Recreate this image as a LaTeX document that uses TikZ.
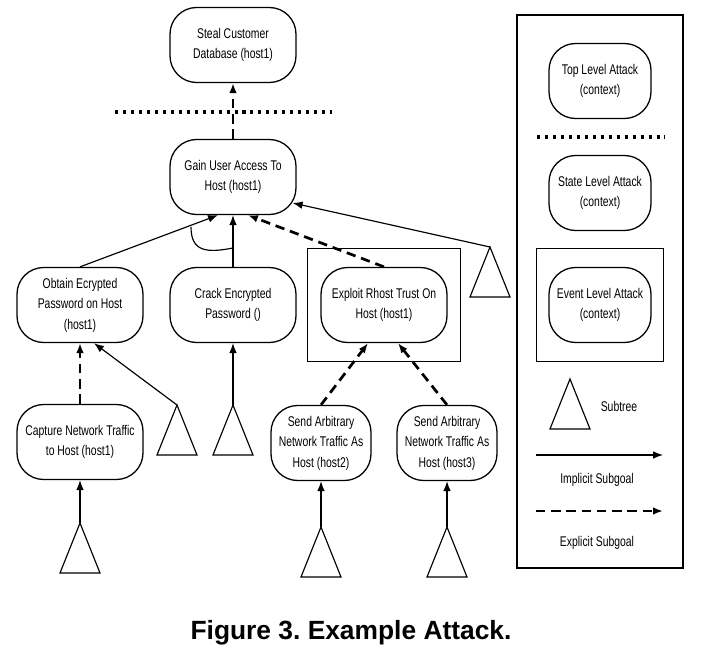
\documentclass[tikz,border=0pt]{standalone}
\usepackage{fontspec}
\setmainfont{Liberation Sans}[FakeStretch=0.74]
\newfontfamily\captionfont{Liberation Sans}
\usetikzlibrary{arrows.meta,calc,fit}

\newcommand{\subtree}[2]{%
  \coordinate (#1) at #2;
  \draw[line width=1pt] (#1) -- ++(-20,50) -- ++(40,0) -- cycle;}

\begin{document}
\begin{tikzpicture}[x=0.03cm, y=-0.03cm, font=\fontsize{12}{17.5}\selectfont,
  goal/.style={draw, line width=1.1pt, rounded corners=0.8cm, minimum width=3.78cm,
               minimum height=2.25cm, align=center, inner sep=1pt},
  sendgoal/.style={goal, minimum width=3cm},
  keygoal/.style={goal, minimum width=3.06cm},
  implicit/.style={-{Latex[length=8.5pt,width=6.5pt]}, line width=1pt},
  explicit/.style={-{Latex[length=8.5pt,width=6.5pt]}, line width=2.3pt, dash pattern=on 8pt off 5pt},
  level/.style={line width=2.6pt, dash pattern=on 2.6pt off 4.2pt},
  frame/.style={draw, line width=1.1pt}]
  \useasboundingbox (0,0) rectangle (711,651);

  \node[goal] (steal) at (233,45) {Steal Customer\\Database (host1)};
  \node[goal] (gain) at (233,177) {Gain User Access To\\Host (host1)};
  \node[goal] (obtain) at (80,305) {Obtain Ecrypted\\Password on Host\\(host1)};
  \node[goal] (crack) at (233,305) {Crack Encrypted\\Password ()};
  \node[goal] (exploit) at (384,305) {Exploit Rhost Trust On\\Host (host1)};
  \node[frame, fit=(exploit), inner xsep=0.38cm, inner ysep=0.54cm] (exploitframe) {};
  \node[goal] (capture) at (80,442) {Capture Network Traffic\\to Host (host1)};
  \node[sendgoal] (send2) at (321,443) {Send Arbitrary\\Network Traffic As\\Host (host2)};
  \node[sendgoal] (send3) at (447,443) {Send Arbitrary\\Network Traffic As\\Host (host3)};

  \subtree{gaintree}{(490,247)}
  \subtree{obtaintree}{(177,405)}
  \subtree{cracktree}{(233,405)}
  \subtree{capturetree}{(80,523)}
  \subtree{sendtree2}{(321,527)}
  \subtree{sendtree3}{(447,527)}

  \draw[level] (115,112) -- (332,112);
  \draw[explicit] (gain) -- (steal);
  \draw[implicit] (obtain.north) -- ($(gain.south)+(-15,0)$);
  \draw[implicit] (crack) -- (gain);
  \draw[line width=1pt] (191,227) .. controls (191,252) and (207,253) .. (233,248);
  \draw[explicit] (exploit.north) -- ($(gain.south)+(15,0)$);
  \draw[implicit] (gaintree) -- ($(gain.east)+(-4,26)$);
  \draw[explicit] (capture) -- (obtain);
  \draw[implicit] (obtaintree) -- ($(obtain.south)+(14,0)$);
  \draw[implicit] (cracktree) -- (crack);
  \draw[explicit] (send2.north) -- ($(exploit.south)+(-16,0)$);
  \draw[explicit] (send3.north) -- ($(exploit.south)+(14,0)$);
  \draw[implicit] (capturetree) -- (capture);
  \draw[implicit] (sendtree2) -- (send2);
  \draw[implicit] (sendtree3) -- (send3);

  \draw[frame] (517,15) rectangle (683,568);
  \node[keygoal] (topkey) at (600,81) {Top Level Attack\\(context)};
  \draw[level] (537,137) -- (665,137);
  \node[keygoal] (statekey) at (600,193) {State Level Attack\\(context)};
  \node[keygoal] (eventkey) at (600,305) {Event Level Attack\\(context)};
  \node[frame, fit=(eventkey), inner xsep=0.36cm, inner ysep=0.54cm] (eventframe) {};
  \subtree{keytree}{(570,379)}
  \node (subtreelabel) at (619,406) {Subtree};
  \coordinate (implicitstart) at (536,455);
  \coordinate (implicitend) at (663,455);
  \draw[implicit] (implicitstart) -- (implicitend);
  \node (implicitlabel) at (597,480) {Implicit Subgoal};
  \coordinate (explicitstart) at (536,511);
  \coordinate (explicitend) at (663,511);
  \draw[explicit] (explicitstart) -- (explicitend);
  \node (explicitlabel) at (597,543) {Explicit Subgoal};

  \node[anchor=base, font=\captionfont\bfseries\fontsize{22.5}{26}\selectfont] (caption)
    at (351,639) {\frenchspacing Figure 3. Example Attack.};
\end{tikzpicture}
\end{document}
